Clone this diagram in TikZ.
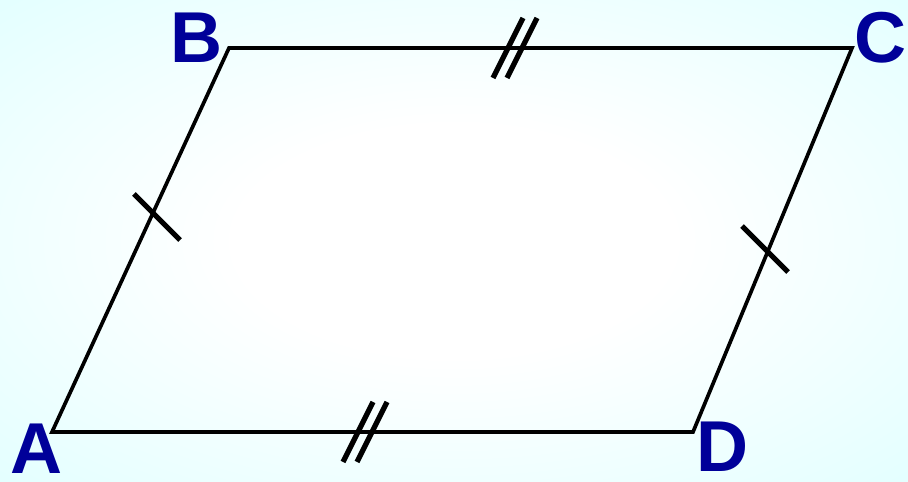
\documentclass[tikz,border=0pt]{standalone}
\usepackage{fontspec}
\setmainfont{Liberation Sans}
\usetikzlibrary{calc}
\definecolor{vtxblue}{RGB}{0,0,153}
\definecolor{bgcyan}{RGB}{222,255,255}
\pgfdeclareradialshading{bgglow}{\pgfpoint{0bp}{0bp}}{color(0bp)=(white); color(12bp)=(white); color(40bp)=(bgcyan); color(50bp)=(bgcyan)}

\begin{document}
\begin{tikzpicture}[
    x=0.02cm, y=-0.02cm,
    side/.style={draw, line width=2.1pt, line join=miter},
    tick/.style={draw, line width=3pt},
    vlabel/.style={text=vtxblue, font=\bfseries\fontsize{41}{41}\selectfont, inner sep=0pt}
]
% background
\shade[shading=bgglow] (0,0) rectangle (908,482);
\useasboundingbox (0,0) rectangle (908,482);

% vertices
\coordinate (A) at (52,432);
\coordinate (B) at (229,48);
\coordinate (C) at (852,48);
\coordinate (D) at (693,432);

\node[vlabel] (labA) at (37,449) {A};
\node[vlabel] (labB) at (197,38) {B};
\node[vlabel] (labC) at (880,38) {C};
\node[vlabel] (labD) at (722,447) {D};

% sides
\draw[side] (A) -- (B) -- (C) -- (D) -- cycle;

% equal marks
\coordinate (mAB) at (157,217);
\coordinate (mCD) at (765,249);
\draw[tick] ($(mAB)+(-23,-23)$) -- ($(mAB)+(23,23)$);
\draw[tick] ($(mCD)+(-23,-23)$) -- ($(mCD)+(23,23)$);

\coordinate (mBC) at (515,48);
\coordinate (mAD) at (365,432);
\draw[tick] ($(mBC)+(-7,0)+(15,-30)$) -- ($(mBC)+(-7,0)+(-15,30)$);
\draw[tick] ($(mBC)+(7,0)+(15,-30)$) -- ($(mBC)+(7,0)+(-15,30)$);
\draw[tick] ($(mAD)+(-7,0)+(15,-30)$) -- ($(mAD)+(-7,0)+(-15,30)$);
\draw[tick] ($(mAD)+(7,0)+(15,-30)$) -- ($(mAD)+(7,0)+(-15,30)$);
\end{tikzpicture}
\end{document}
